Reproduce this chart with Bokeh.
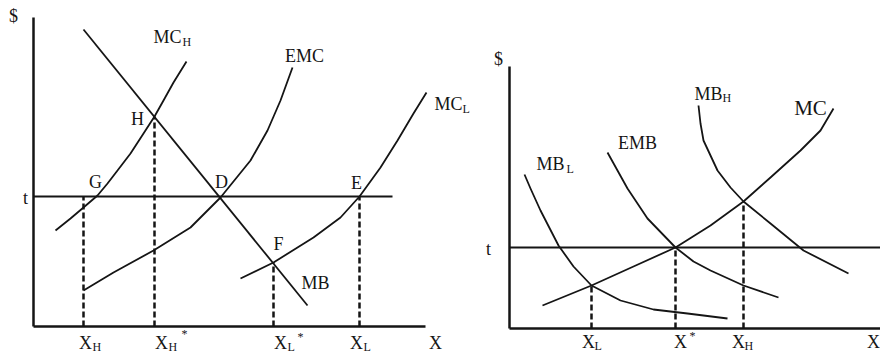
from bokeh.plotting import figure
from bokeh.layouts import row
from bokeh.models import Range1d, ColumnDataSource, LabelSet
from bokeh.core.properties import value
from bokeh.embed import file_html
from bokeh.resources import INLINE

FONT = "Liberation Serif"
INK = "#151515"

# ---------------- left panel: uncertain marginal cost ----------------
axis_left_x_end = 392
axis_left_y_end = 309
t_left = 130
drop_x_left = [50, 121, 240, 326]          # X_H, X_H*, X_L*, X_L
drop_top_left = [130, 210, 64, 130]
t_line_end_left = 359

mb_x = [50, 274]
mb_y = [297, 21]
mch_x = [22, 37, 50, 64, 74, 84, 97, 110, 121, 130, 140, 153]
mch_y = [96, 108, 119, 131, 143, 156, 173, 193, 210, 226, 244, 265]
emc_x = [50, 80, 120, 157, 187, 217, 234, 247, 259]
emc_y = [36, 54, 76, 99, 129, 166, 196, 226, 259]
mcl_x = [207, 240, 280, 307, 326, 347, 364, 380, 393]
mcl_y = [48, 64, 89, 109, 130, 159, 186, 213, 234]

lab_l_text = ["MC", "EMC", "MC", "H", "G", "D", "E", "F", "MB",
              "X", "X", "X", "X", "X", "$", "t"]
lab_l_x = [134, 271, 415, 104, 62, 188, 323, 245, 282,
           52, 128, 247, 323, 402, -20, -8]
lab_l_y = [290, 271, 223, 208, 145, 145, 144, 83, 44,
           -16, -16, -16, -16, -16, 311, 129]
sub_l_text = ["H", "L", "H", "H", "*", "L", "*", "L"]
sub_l_x = [149, 429, 59, 135, 148, 254, 264, 330]
sub_l_y = [285, 218, -20, -20, -7, -20, -10, -20]

# ---------------- right panel: uncertain marginal benefit ----------------
axis_right_x_end = 371
axis_right_y_end = 262
t_right = 81
drop_x_right = [82, 166, 234]               # X_L, X*, X_H
drop_top_right = [43, 81, 127]
t_line_end_right = 371

mbl_x = [15, 21, 31, 49, 64, 82, 111, 144, 178, 218]
mbl_y = [154, 140, 118, 83, 62, 43, 28, 19, 15, 10]
mc_x = [33, 82, 124, 166, 201, 234, 261, 291, 311, 324]
mc_y = [23, 43, 62, 81, 103, 127, 151, 178, 198, 220]
emb_x = [98, 118, 138, 166, 184, 201, 234, 269]
emb_y = [176, 140, 110, 81, 67, 58, 43, 31]
mbh_x = [189, 191, 194, 208, 221, 234, 261, 294, 339]
mbh_y = [223, 205, 188, 158, 141, 127, 105, 78, 55]

lab_r_text = ["MB", "EMB", "MB", "X", "X", "X", "X", "$", "t"]
lab_r_x = [41, 128, 199, 79, 171, 229, 364, -11, -21]
lab_r_y = [165, 186, 235, -13, -13, -13, -13, 270, 80]
mc_lab_text = ["MC"]
mc_lab_x = [301]
mc_lab_y = [221]
sub_r_text = ["L", "H", "L", "*", "H"]
sub_r_x = [57, 213, 85, 180, 235]
sub_r_y = [160, 231, -17, -7, -17]


def make_fig(width, height, xr, yr):
    p = figure(width=width, height=height, x_range=Range1d(*xr), y_range=Range1d(*yr),
               output_backend="svg", toolbar_location=None,
               min_border=0, min_border_left=0, min_border_right=0,
               min_border_top=0, min_border_bottom=0)
    p.outline_line_color = None
    p.grid.visible = False
    p.axis.visible = False
    p.background_fill_color = "white"
    p.border_fill_color = "white"
    return p


def add_axes(p, x_end, y_end):
    p.line([0, x_end], [0, 0], line_color=INK, line_width=2.5)
    p.line([0, 0], [0, y_end], line_color=INK, line_width=2.5)


def add_labels(p, texts, xs, ys, size, align="center"):
    src = ColumnDataSource(dict(text=texts, x=xs, y=ys))
    p.add_layout(LabelSet(x="x", y="y", text="text", source=src,
                          text_font=value(FONT), text_font_size=value(size),
                          text_color=INK, text_align=align,
                          text_baseline="middle"))


# ---- left ----
pl = make_fig(474, 358, (-33, 441), (-32, 326))
add_axes(pl, axis_left_x_end, axis_left_y_end)
pl.line([0, t_line_end_left], [t_left, t_left], line_color=INK, line_width=1.8)
pl.segment(x0=drop_x_left, y0=[0] * len(drop_x_left), x1=drop_x_left, y1=drop_top_left,
           line_color=INK, line_width=2.5, line_dash="6 3")
for xs, ys in ((mb_x, mb_y), (mch_x, mch_y), (emc_x, emc_y), (mcl_x, mcl_y)):
    pl.line(xs, ys, line_color=INK, line_width=1.8, line_join="round")
add_labels(pl, lab_l_text, lab_l_x, lab_l_y, "18px")
add_labels(pl, sub_l_text, sub_l_x, sub_l_y, "12px", align="left")

# ---- right ----
pr = make_fig(406, 358, (-35, 371), (-30, 328))
add_axes(pr, axis_right_x_end, axis_right_y_end)
pr.line([0, t_line_end_right], [t_right, t_right], line_color=INK, line_width=1.8)
pr.segment(x0=drop_x_right, y0=[0] * len(drop_x_right), x1=drop_x_right, y1=drop_top_right,
           line_color=INK, line_width=2.5, line_dash="6 3")
for xs, ys in ((mbl_x, mbl_y), (mc_x, mc_y), (emb_x, emb_y), (mbh_x, mbh_y)):
    pr.line(xs, ys, line_color=INK, line_width=1.8, line_join="round")
add_labels(pr, lab_r_text, lab_r_x, lab_r_y, "18px")
add_labels(pr, mc_lab_text, mc_lab_x, mc_lab_y, "21px")
add_labels(pr, sub_r_text, sub_r_x, sub_r_y, "12px", align="left")

layout = row(pl, pr, spacing=0)
open("out.html", "w").write(file_html(layout, INLINE))
